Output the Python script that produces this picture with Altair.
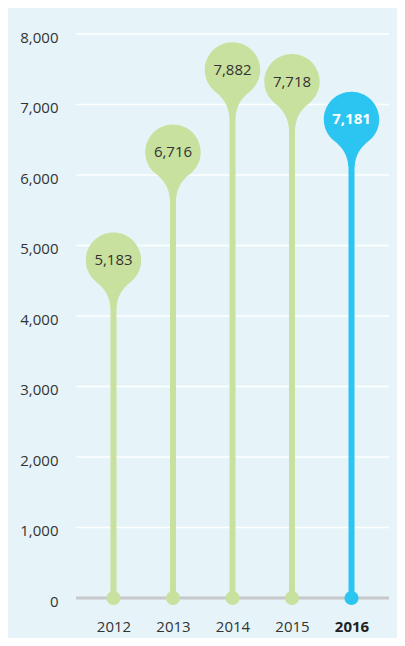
import altair as alt
import pandas as pd

years = ["2012", "2013", "2014", "2015", "2016"]
values = [5183, 6716, 7882, 7718, 7181]
tick_values = [0, 1000, 2000, 3000, 4000, 5000, 6000, 7000, 8000]
highlight = "2016"

GREEN = "#C8E19E"
BLUE = "#2CC5F1"
PANEL = "#E6F4F9"
TEXT = "#333333"
R = 27.7  # balloon radius in px

df = pd.DataFrame({"year": years, "value": values})
df["zero"] = 0
grid_df = pd.DataFrame({"t": tick_values[1:]})

yscale = alt.Scale(domain=[0, 8000], nice=False)
xscale = alt.Scale(type="point", padding=0.63)
color = alt.Color("year:N", scale=alt.Scale(domain=years, range=[GREEN] * 4 + [BLUE]), legend=None)

Y_AXIS = alt.Axis(values=tick_values, format=",.0f", labelPadding=18, labelOffset=3)
X_AXIS = alt.Axis(
    labelAngle=0,
    labelPadding=21,
    labelColor={"condition": {"test": f"datum.value == '{highlight}'", "value": "#222222"}, "value": TEXT},
    labelFontWeight={"condition": {"test": f"datum.value == '{highlight}'", "value": "bold"}, "value": "normal"},
)


def Y(field):
    return alt.Y(field, scale=yscale, title=None, axis=Y_AXIS)


def X():
    return alt.X("year:O", scale=xscale, title=None, axis=X_AXIS)


grid = alt.Chart(grid_df).mark_rule(color="white", strokeWidth=1.5).encode(y=Y("t:Q"))

baseline = alt.Chart(alt.Data(values=[{"z": 0}])).mark_rule(
    color="#C7C8C9", strokeWidth=3
).encode(y=Y("z:Q"))

stems = alt.Chart(df).mark_rule(strokeWidth=6, yOffset=4).encode(
    x=X(), y=Y("value:Q"), y2="zero:Q", color=color
)

dots = alt.Chart(df).mark_circle(size=201, opacity=1).encode(x=X(), y=Y("zero:Q"), color=color)

# balloon: circle of radius 1 centred 1 unit below the value point, plus a tapered neck
BALLOON = (
    "M 0.62 1.78 "
    "C 0.858 1.591 1 1.305 1 1 "
    "C 1 0.4477 0.5523 0 0 0 "
    "C -0.5523 0 -1 0.4477 -1 1 "
    "C -1 1.305 -0.858 1.591 -0.62 1.78 "
    "C -0.313 2.013 -0.143 2.303 -0.11 2.7 "
    "L 0.11 2.7 "
    "C 0.143 2.303 0.313 2.013 0.62 1.78 Z"
)
heads = alt.Chart(df).mark_point(
    shape=BALLOON, filled=True, size=(2 * R) ** 2, opacity=1, strokeWidth=0
).encode(x=X(), y=Y("value:Q"), color=color)

labels = alt.Chart(df).transform_filter(f"datum.year != '{highlight}'").mark_text(
    baseline="middle", dy=R, fontSize=15, font="Open Sans", color=TEXT
).encode(x=X(), y=Y("value:Q"), text=alt.Text("value:Q", format=","))

labels_hl = alt.Chart(df).transform_filter(f"datum.year == '{highlight}'").mark_text(
    baseline="middle", dy=R, fontSize=15, font="Open Sans", fontWeight="bold", color="white"
).encode(x=X(), y=Y("value:Q"), text=alt.Text("value:Q", format=","))

chart = (
    alt.layer(grid, baseline, stems, dots, heads, labels, labels_hl)
    .properties(
        width=313,
        height=564,
        autosize=alt.AutoSizeParams(type="none"),
        padding={"left": 68, "top": 26, "right": 8, "bottom": 40},
    )
    .configure(background=PANEL)
    .configure_view(stroke=None)
    .configure_axis(
        domain=False,
        ticks=False,
        grid=False,
        labelFont="Open Sans",
        labelFontSize=15,
        labelColor=TEXT,
    )
)

chart.save("out.html", embed_options={"renderer": "svg", "actions": False})
